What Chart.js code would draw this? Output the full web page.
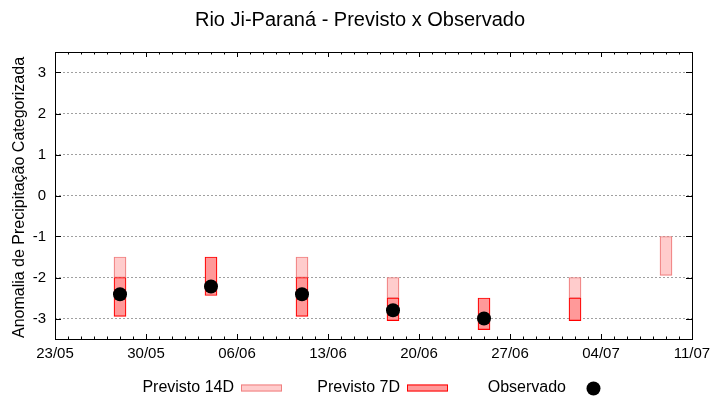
<!DOCTYPE html>
<html><head><meta charset="utf-8">
<script src="https://cdn.jsdelivr.net/npm/chart.js@4/dist/chart.umd.min.js"></script>
<style>html,body{margin:0;padding:0;background:#fff;overflow:hidden}#wrap{width:720px;height:400px}</style>
</head><body><div id="wrap"><canvas id="c" width="720" height="400"></canvas></div>
<script>
const startDate = '23/05';
const endDate = '11/07';
const dates = ['28/05','04/06','11/06','18/06','25/06','02/07','09/07'];
const prev14Low  = [-2, null, -2, -2.5, null, -2.5, -1.95];
const prev14High = [-1.5, null, -1.5, -2, null, -2, -1];
const prev7Low  = [-2.95, -2.44, -2.95, -3.05, -3.27, -3.05, null];
const prev7High = [-2, -1.5, -2, -2.5, -2.5, -2.5, null];
const observado = [-2.41, -2.22, -2.41, -2.8, -3.0, null, null];
const yTickValues = [-3, -2, -1, 0, 1, 2, 3];
const yMin = -3.5, yMax = 3.5;
const titleText = 'Rio Ji-Paraná - Previsto x Observado';
const yTitleText = 'Anomalia de Precipitação Categorizada';
const legendLabels = ['Previsto 14D', 'Previsto 7D', 'Observado'];

const FONT = '"Liberation Sans", Arial, sans-serif';
const C14_FILL = 'rgb(255,204,204)', C14_LINE = 'rgb(240,128,128)';
const C7_FILL = 'rgb(255,153,153)', C7_LINE = 'rgb(255,0,0)';

function dayOf(s) {
  const [d, m] = s.split('/').map(Number);
  const [d0, m0] = startDate.split('/').map(Number);
  return Math.round((Date.UTC(2001, m - 1, d) - Date.UTC(2001, m0 - 1, d0)) / 86400000);
}
function labelOf(v) {
  const [d0, m0] = startDate.split('/').map(Number);
  const t = new Date(Date.UTC(2001, m0 - 1, d0) + v * 86400000);
  return String(t.getUTCDate()).padStart(2, '0') + '/' + String(t.getUTCMonth() + 1).padStart(2, '0');
}
function ranges(lo, hi) {
  const out = [];
  dates.forEach((d, i) => { if (lo[i] !== null && hi[i] !== null) out.push({x: dayOf(d), y: [lo[i], hi[i]]}); });
  return out;
}
const obsPts = [];
dates.forEach((d, i) => { if (observado[i] !== null) obsPts.push({x: dayOf(d), y: observado[i]}); });

const decor = {
  id: 'decor',
  afterDraw(chart) {
    const ctx = chart.ctx, a = chart.chartArea, xs = chart.scales.x, ys = chart.scales.y;
    ctx.save();
    ctx.strokeStyle = '#000'; ctx.lineWidth = 1; ctx.setLineDash([]);
    ctx.beginPath();
    const nDays = dayOf(endDate);
    for (let d = 0; d <= nDays; d++) {
      const px = Math.round(xs.getPixelForValue(d)) + 0.5;
      const len = d % 7 === 0 ? 5 : 2.5;
      ctx.moveTo(px, a.bottom); ctx.lineTo(px, a.bottom - len);
      ctx.moveTo(px, a.top); ctx.lineTo(px, a.top + len);
    }
    yTickValues.forEach(v => {
      const py = Math.round(ys.getPixelForValue(v)) + 0.5;
      ctx.moveTo(a.left, py); ctx.lineTo(a.left + 6, py);
      ctx.moveTo(a.right, py); ctx.lineTo(a.right - 6, py);
    });
    ctx.stroke();
    ctx.strokeRect(Math.round(a.left) + 0.5, Math.round(a.top) + 0.5, Math.round(a.right - a.left), Math.round(a.bottom - a.top));
    ctx.fillStyle = '#000';
    ctx.textAlign = 'center'; ctx.textBaseline = 'middle';
    ctx.font = '20px ' + FONT;
    ctx.fillText(titleText, 360, 20);
    ctx.save();
    ctx.translate(20, (a.top + a.bottom) / 2 + 2);
    ctx.rotate(-Math.PI / 2);
    ctx.font = '16px ' + FONT;
    ctx.fillText(yTitleText, 0, 0);
    ctx.restore();
    ctx.font = '16px ' + FONT;
    ctx.textAlign = 'right';
    const ly = 387.5;
    const sx = [241, 407, 573];
    legendLabels.forEach((lab, i) => {
      ctx.fillStyle = '#000';
      ctx.fillText(lab, sx[i] - 7, ly);
      if (i < 2) {
        ctx.fillStyle = i === 0 ? C14_FILL : C7_FILL;
        ctx.strokeStyle = i === 0 ? C14_LINE : C7_LINE;
        ctx.fillRect(sx[i], ly - 3, 41, 7);
        ctx.strokeRect(sx[i] + 0.5, ly - 3 + 0.5, 40, 6);
      } else {
        ctx.fillStyle = '#000';
        ctx.beginPath(); ctx.arc(sx[i] + 20.5, ly + 1, 7, 0, Math.PI * 2); ctx.fill();
      }
    });
    ctx.restore();
  }
};

new Chart(document.getElementById('c'), {
  type: 'bar',
  data: {
    datasets: [
      { label: legendLabels[2], type: 'scatter', data: obsPts, order: 0,
        pointRadius: 7, pointHoverRadius: 7, backgroundColor: '#000', borderColor: '#000', borderWidth: 0, showLine: false },
      { label: legendLabels[1], data: ranges(prev7Low, prev7High), order: 1,
        backgroundColor: C7_FILL, borderColor: C7_LINE, borderWidth: 1.2, borderSkipped: false, barThickness: 12, grouped: false },
      { label: legendLabels[0], data: ranges(prev14Low, prev14High), order: 2,
        backgroundColor: C14_FILL, borderColor: C14_LINE, borderWidth: 1.2, borderSkipped: false, barThickness: 12, grouped: false }
    ]
  },
  options: {
    responsive: false, animation: false, devicePixelRatio: 1,
    layout: { padding: { left: 0, top: 52, right: 28, bottom: 0 } },
    plugins: { legend: { display: false }, tooltip: { enabled: false }, title: { display: false } },
    scales: {
      x: {
        type: 'linear', min: 0, max: dayOf(endDate), offset: false,
        ticks: { stepSize: 7, autoSkip: false, maxRotation: 0, padding: 6, color: '#000',
          font: { family: FONT, size: 15 }, callback: v => labelOf(v) },
        grid: { display: false, drawTicks: false },
        border: { display: false },
        afterFit: s => { s.height = 61; }
      },
      y: {
        type: 'linear', min: yMin, max: yMax,
        afterBuildTicks: s => { s.ticks = yTickValues.map(v => ({ value: v })); },
        ticks: { autoSkip: false, padding: 9, color: '#000',
          font: { family: FONT, size: 15 }, callback: v => String(v) },
        grid: { color: '#a0a0a0', lineWidth: 1, drawTicks: false },
        border: { display: false, dash: [2, 2] },
        afterFit: s => { s.width = 55; }
      }
    }
  },
  plugins: [decor]
});
</script>
</body></html>
